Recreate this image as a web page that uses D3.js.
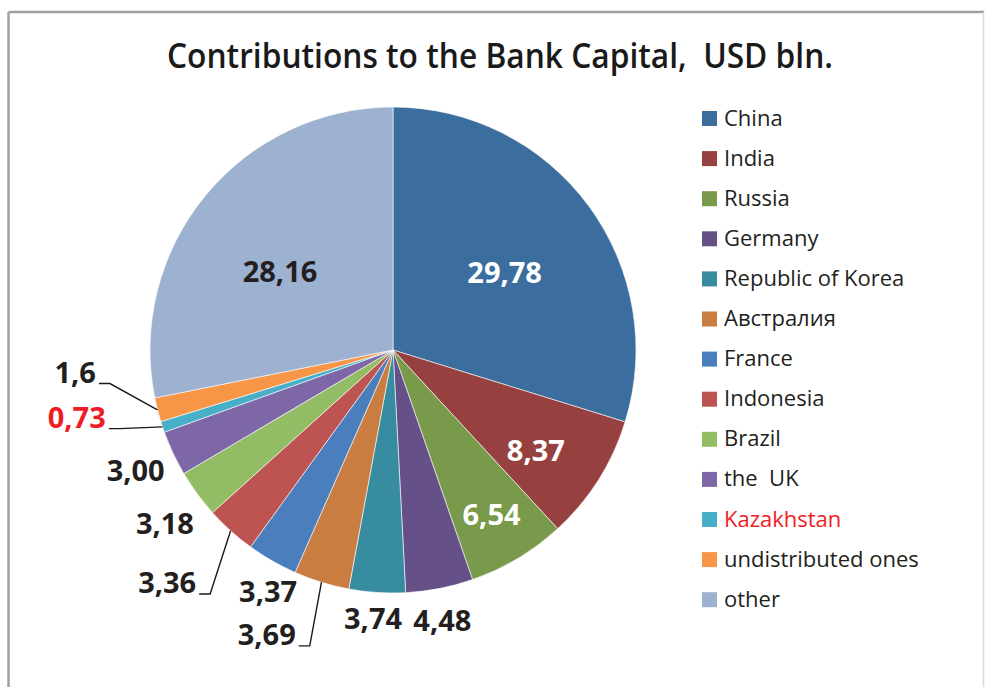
<!DOCTYPE html>
<html>
<head>
<meta charset="utf-8">
<script src="https://cdn.jsdelivr.net/npm/d3@7"></script>
<style>
  html, body { margin: 0; padding: 0; background: #fff; }
  svg { display: block; }
</style>
</head>
<body>
<svg id="chart" width="985" height="687"></svg>
<script>
// данные диаграммы
const categories = ["China", "India", "Russia", "Germany", "Republic of Korea", "Австралия",
  "France", "Indonesia", "Brazil", "the  UK", "Kazakhstan", "undistributed ones", "other"];
const values = [29.78, 8.37, 6.54, 4.48, 3.74, 3.69, 3.37, 3.36, 3.18, 3.00, 0.73, 1.6, 28.16];
const valueLabels = ["29,78", "8,37", "6,54", "4,48", "3,74", "3,69", "3,37", "3,36", "3,18", "3,00", "0,73", "1,6", "28,16"];
const sliceColors = ["#3b6d9f", "#964140", "#789a4a", "#665088", "#388c9f", "#c97d41",
  "#4a7ebd", "#bd5452", "#93bd65", "#7e67a6", "#48afc8", "#f79647", "#9db1d0"];
const titleText = "Contributions to the Bank Capital,  USD bln.";

const svg = d3.select("#chart");
const area = { cx: 393, cy: 350, r: 243 };

// рамка
svg.append("line").attr("x1", 8.5).attr("y1", 12).attr("x2", 984).attr("y2", 12)
  .style("stroke", "#a0a0a0").style("stroke-width", 2.5);
svg.append("line").attr("x1", 8.5).attr("y1", 12).attr("x2", 8.5).attr("y2", 687)
  .style("stroke", "#a0a0a0").style("stroke-width", 2.5);
svg.append("line").attr("x1", 983.5).attr("y1", 12).attr("x2", 983.5).attr("y2", 687)
  .style("stroke", "#d9d9d9").style("stroke-width", 1.5);

// заголовок
svg.append("text")
  .attr("x", 500).attr("y", 68)
  .attr("text-anchor", "middle")
  .attr("textLength", 666).attr("lengthAdjust", "spacingAndGlyphs")
  .style("white-space", "pre")
  .style("font-family", "'Open Sans', sans-serif")
  .style("font-weight", "600")
  .style("font-size", "35px")
  .style("fill", "#1a1a1a")
  .text(titleText);

// пирог
const pie = d3.pie().sort(null).value(d => d);
const arcs = pie(values);
const arcGen = d3.arc().innerRadius(0).outerRadius(area.r);

const g = svg.append("g").attr("transform", `translate(${area.cx}, ${area.cy})`);
g.selectAll(".slice")
  .data(arcs)
  .enter()
  .append("path")
  .attr("class", "slice")
  .attr("d", arcGen)
  .style("fill", (d, i) => sliceColors[i])
  .style("stroke", "#ffffff")
  .style("stroke-width", 0.6);

// размещение подписей: доля радиуса и сдвиг угла (в градусах)
const placement = [
  { k: 0.56, da: 1.5, light: true },
  { k: 0.72, da: 3, light: true },
  { k: 0.79, da: 0, light: true },
  { k: 1.13, da: 0.7 },
  { k: 1.11, da: 0.5 },
  { k: 1.265, da: -1.4, leader: true },
  { k: 1.12, da: -2.5 },
  { k: 1.255, da: -5.1, leader: true },
  { k: 1.18, da: -1 },
  { k: 1.17, da: 0 },
  { k: 1.17, da: 2.4, leader: true },
  { k: 1.173, da: 7.5, leader: true },
  { k: 0.565, da: -4.7 }
];

function polar(angle, rad) {
  return [rad * Math.sin(angle), -rad * Math.cos(angle)];
}

arcs.forEach((d, i) => {
  const p = placement[i];
  const mid = (d.startAngle + d.endAngle) / 2;
  const a = mid + p.da * Math.PI / 180;
  const color = p.light ? "#ffffff" : (categories[i] === "Kazakhstan" ? "#ee1c25" : "#231f20");
  const [x, y] = polar(a, area.r * p.k);

  if (p.leader) {
    const [ex, ey] = polar(mid, area.r);
    g.append("path")
      .attr("d", d3.line()([[ex, ey], [x, y], [x - 11, y]]))
      .style("fill", "none")
      .style("stroke", "#1a1a1a")
      .style("stroke-width", 1.4);
    g.append("text")
      .attr("x", x - 14).attr("y", y - 1)
      .attr("text-anchor", "end")
      .style("font-family", "'Open Sans', sans-serif")
      .style("font-weight", "bold")
      .style("font-size", "29px")
      .style("fill", color)
      .text(valueLabels[i]);
  } else {
    g.append("text")
      .attr("x", x).attr("y", y)
      .attr("dy", "0.36em")
      .attr("text-anchor", "middle")
      .style("font-family", "'Open Sans', sans-serif")
      .style("font-weight", "bold")
      .style("font-size", "29px")
      .style("fill", color)
      .text(valueLabels[i]);
  }
});

// легенда
const legend = svg.append("g").attr("transform", "translate(702, 111)");
const rowStep = 40.1;
categories.forEach((name, i) => {
  legend.append("rect")
    .attr("x", 0).attr("y", i * rowStep)
    .attr("width", 15).attr("height", 15)
    .style("fill", sliceColors[i]);
  legend.append("text")
    .attr("x", 22).attr("y", i * rowStep + 14.5)
    .style("white-space", "pre")
    .style("font-family", "'Open Sans', sans-serif")
    .style("font-size", "22px")
    .style("fill", name === "Kazakhstan" ? "#ee1c25" : "#231f20")
    .text(name);
});
</script>
</body>
</html>
